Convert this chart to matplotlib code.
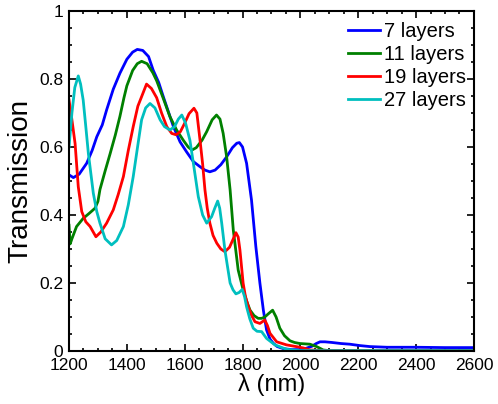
import matplotlib
matplotlib.use('Agg')
import matplotlib.pyplot as plt
from matplotlib.ticker import MultipleLocator

plt.rcParams['font.family'] = ['Liberation Sans', 'DejaVu Sans']

# wavelength (nm) / transmission
wl7 = [1200, 1215, 1235, 1261, 1280, 1296, 1315, 1330, 1353, 1376, 1400, 1420, 1436, 1455, 1475, 1491,
       1510, 1526, 1545, 1561, 1584, 1607, 1630, 1653, 1670, 1687, 1705, 1725, 1745, 1765, 1780, 1789,
       1800, 1814, 1831, 1846, 1860, 1872, 1883, 1895, 1906, 1920, 1941, 1970, 2000, 2020, 2040, 2055,
       2068, 2085, 2110, 2140, 2171, 2205, 2240, 2300, 2400, 2500, 2600]
t7 = [0.518, 0.51, 0.52, 0.552, 0.59, 0.63, 0.665, 0.709, 0.77, 0.817, 0.858, 0.879, 0.887, 0.884, 0.866, 0.826,
      0.79, 0.748, 0.70, 0.66, 0.615, 0.585, 0.557, 0.542, 0.532, 0.527, 0.532, 0.548, 0.571, 0.598, 0.611, 0.613,
      0.6, 0.552, 0.444, 0.307, 0.2, 0.12, 0.062, 0.035, 0.023, 0.013, 0.007, 0.004, 0.004, 0.008, 0.014, 0.022,
      0.027, 0.027, 0.025, 0.022, 0.02, 0.016, 0.013, 0.011, 0.011, 0.01, 0.01]

wl11 = [1200, 1204, 1210, 1226, 1249, 1270, 1290, 1300, 1307, 1325, 1342, 1360, 1376, 1390, 1400, 1420,
        1436, 1451, 1470, 1490, 1503, 1525, 1549, 1572, 1595, 1612, 1625, 1640, 1660, 1676, 1695, 1710,
        1722, 1733, 1745, 1757, 1768, 1785, 1802, 1815, 1826, 1840, 1854, 1866, 1877, 1890, 1904, 1916,
        1929, 1945, 1964, 1980, 1998, 2033, 2056, 2070, 2079, 2100, 2300, 2600]
t11 = [0.37, 0.315, 0.33, 0.366, 0.39, 0.405, 0.42, 0.44, 0.475, 0.53, 0.58, 0.635, 0.69, 0.745, 0.78, 0.825,
       0.845, 0.852, 0.845, 0.818, 0.795, 0.745, 0.689, 0.65, 0.62, 0.6, 0.591, 0.598, 0.62, 0.645, 0.68, 0.694,
       0.682, 0.64, 0.571, 0.474, 0.356, 0.238, 0.18, 0.145, 0.12, 0.104, 0.096, 0.096, 0.1, 0.11, 0.12, 0.1,
       0.067, 0.045, 0.03, 0.025, 0.022, 0.02, 0.013, 0.007, 0.003, 0.001, 0.001, 0.001]

wl19 = [1200, 1210, 1221, 1232, 1244, 1258, 1273, 1293, 1310, 1330, 1353, 1370, 1388, 1405, 1422, 1438,
        1451, 1468, 1485, 1503, 1520, 1538, 1555, 1570, 1585, 1600, 1615, 1632, 1642, 1653, 1662, 1670,
        1678, 1687, 1698, 1711, 1725, 1739, 1755, 1768, 1777, 1785, 1791, 1802, 1810, 1820, 1831, 1843,
        1860, 1877, 1886, 1895, 1918, 1952, 1992, 2010, 2033, 2100, 2600]
t19 = [0.738, 0.68, 0.61, 0.483, 0.41, 0.38, 0.366, 0.336, 0.35, 0.376, 0.415, 0.46, 0.513, 0.59, 0.66, 0.72,
       0.748, 0.785, 0.772, 0.745, 0.7, 0.66, 0.64, 0.636, 0.645, 0.67, 0.698, 0.714, 0.7, 0.62, 0.55, 0.474,
       0.42, 0.376, 0.34, 0.317, 0.3, 0.292, 0.305, 0.33, 0.348, 0.335, 0.297, 0.2, 0.16, 0.13, 0.105, 0.086,
       0.081, 0.091, 0.075, 0.052, 0.027, 0.018, 0.012, 0.009, 0.003, 0.001, 0.001]

wl27 = [1200, 1210, 1220, 1232, 1240, 1249, 1258, 1267, 1284, 1296, 1307, 1325, 1347, 1365, 1388, 1405,
        1422, 1437, 1451, 1465, 1480, 1497, 1515, 1530, 1549, 1565, 1578, 1590, 1603, 1618, 1630, 1647,
        1662, 1676, 1693, 1704, 1714, 1721, 1728, 1739, 1757, 1767, 1777, 1788, 1799, 1807, 1814, 1825,
        1837, 1850, 1866, 1883, 1912, 1952, 1980, 2000, 2100, 2600]
t27 = [0.6, 0.7, 0.775, 0.809, 0.785, 0.738, 0.66, 0.58, 0.464, 0.41, 0.376, 0.33, 0.312, 0.325, 0.366, 0.43,
       0.513, 0.6, 0.68, 0.715, 0.728, 0.715, 0.68, 0.66, 0.65, 0.66, 0.682, 0.694, 0.67, 0.62, 0.552, 0.454,
       0.4, 0.376, 0.395, 0.42, 0.441, 0.42, 0.376, 0.297, 0.2, 0.18, 0.168, 0.172, 0.181, 0.16, 0.13, 0.095,
       0.067, 0.058, 0.057, 0.037, 0.018, 0.005, 0.002, 0.001, 0.001, 0.001]

labels = ['7 layers', '11 layers', '19 layers', '27 layers']
colors = ['#0000ff', '#008000', '#ff0000', '#00bfbf']

fig = plt.figure(figsize=(4.98, 4.04), dpi=100)
ax = fig.add_axes([0.1386, 0.1312, 0.813, 0.8416])

series = [(wl7, t7), (wl11, t11), (wl19, t19), (wl27, t27)]
for (x, y), lab, c in zip(series, labels, colors):
    ax.plot(x, y, color=c, lw=2, label=lab)

ax.set_xlim(1200, 2600)
ax.set_ylim(0, 1)
ax.xaxis.set_major_locator(MultipleLocator(200))
ax.xaxis.set_minor_locator(MultipleLocator(50))
ax.yaxis.set_minor_locator(MultipleLocator(0.05))
ax.set_yticks([0, 0.2, 0.4, 0.6, 0.8, 1])
ax.set_yticklabels(['0', '0.2', '0.4', '0.6', '0.8', '1'])
ax.tick_params(which='both', direction='in', top=True, right=True, labelsize=12.5, width=1.2)
ax.tick_params(which='major', length=5, pad=4)
ax.tick_params(axis='x', which='major', pad=5)
ax.tick_params(which='minor', length=2.5)
for s in ax.spines.values():
    s.set_linewidth(1.5)

ax.set_xlabel('λ (nm)', fontsize=17, labelpad=0)
ax.set_ylabel('Transmission', fontsize=20, labelpad=4)

ax.legend(loc='upper right', frameon=False, fontsize=14.5, handlelength=1.6,
          handletextpad=0.2, labelspacing=0.2, borderaxespad=0.2, bbox_to_anchor=(1.01, 1.003))

fig.savefig('out.png', dpi=100)
